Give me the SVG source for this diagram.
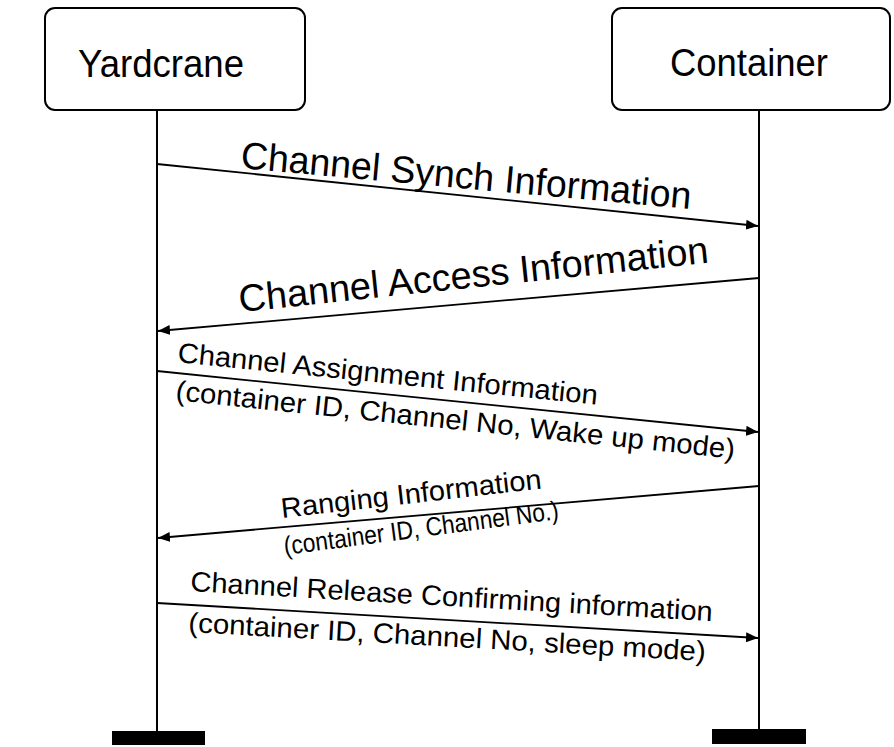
<svg xmlns="http://www.w3.org/2000/svg" width="894" height="747" viewBox="0 0 894 747">
<defs>
<style>
.box{fill:#fff;stroke:#000;stroke-width:2}
.life{stroke:#000;stroke-width:2;fill:none}
.msg{stroke:#000;stroke-width:1.8;fill:none}
.bar{fill:#000}
.t{font-family:"Liberation Sans",Arial,sans-serif;fill:#000}
.big{font-size:38px}
.mid{font-size:38px}
.sm{font-size:28px}
.xs{font-size:26px}
</style>
<marker id="ah" viewBox="0 0 12 10" refX="12" refY="5" markerWidth="12" markerHeight="10" markerUnits="userSpaceOnUse" orient="auto">
<path d="M0,0 L12,5 L0,10 Z" fill="#000"/>
</marker>
</defs>
<rect width="894" height="747" fill="#fff"/>
<g id="yardcrane">
<rect class="box" x="45" y="8" width="260" height="102" rx="10"/>
<text class="t big" x="78" y="77" textLength="166" lengthAdjust="spacingAndGlyphs">Yardcrane</text>
<line class="life" x1="157" y1="110" x2="157" y2="735"/>
<rect class="bar" x="112" y="731" width="93" height="14"/>
</g>
<g id="container">
<rect class="box" x="612" y="8" width="278" height="102" rx="10"/>
<text class="t big" x="670" y="76" textLength="158" lengthAdjust="spacingAndGlyphs">Container</text>
<line class="life" x1="759" y1="110" x2="759" y2="733"/>
<rect class="bar" x="712" y="729" width="94" height="15"/>
</g>
<g id="connectors">
<line class="msg" x1="157" y1="164" x2="758" y2="226" marker-end="url(#ah)"/>
<line class="msg" x1="759" y1="278" x2="158" y2="331" marker-end="url(#ah)"/>
<line class="msg" x1="157" y1="371" x2="758" y2="432" marker-end="url(#ah)"/>
<line class="msg" x1="759" y1="486" x2="158" y2="538" marker-end="url(#ah)"/>
<line class="msg" x1="157" y1="603" x2="758" y2="638" marker-end="url(#ah)"/>
</g>
<g id="labels">
<text class="t mid" transform="translate(240,168) rotate(5.2)" textLength="452" lengthAdjust="spacingAndGlyphs">Channel Synch Information</text>
<text class="t mid" transform="translate(240,312) rotate(-6)" textLength="472" lengthAdjust="spacingAndGlyphs">Channel Access Information</text>
<text class="t sm" transform="translate(177,362) rotate(5.8)" textLength="422" lengthAdjust="spacingAndGlyphs">Channel Assignment Information</text>
<text class="t sm" transform="translate(175,400) rotate(6)" textLength="562" lengthAdjust="spacingAndGlyphs">(container ID, Channel No, Wake up mode)</text>
<text class="t sm" transform="translate(282,518) rotate(-6.5)" textLength="262" lengthAdjust="spacingAndGlyphs">Ranging Information</text>
<text class="t xs" transform="translate(285,555) rotate(-7.5)" textLength="277" lengthAdjust="spacingAndGlyphs">(container ID, Channel No.)</text>
<text class="t sm" transform="translate(190,591) rotate(3.3)" textLength="523" lengthAdjust="spacingAndGlyphs">Channel Release Confirming information</text>
<text class="t sm" transform="translate(188,632) rotate(3.2)" textLength="518" lengthAdjust="spacingAndGlyphs">(container ID, Channel No, sleep mode)</text>
</g>
</svg>
